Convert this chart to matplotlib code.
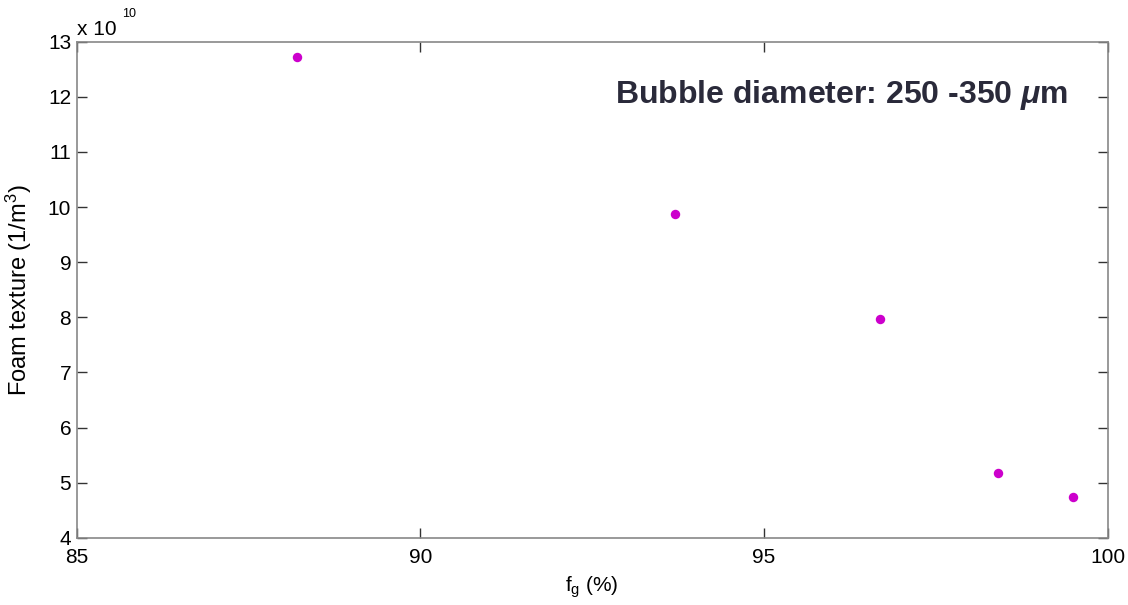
import matplotlib

matplotlib.use("Agg")
import matplotlib.pyplot as plt
from matplotlib.ticker import FuncFormatter

plt.rcParams["font.family"] = ["Liberation Sans", "DejaVu Sans"]
plt.rcParams["mathtext.fontset"] = "custom"
plt.rcParams["mathtext.rm"] = "Liberation Sans"
plt.rcParams["mathtext.it"] = "Liberation Sans:italic:bold"
plt.rcParams["mathtext.bf"] = "Liberation Sans:bold"

# gas fraction (%) and foam texture (1/m^3)
fg = [88.2, 93.7, 96.68, 98.4, 99.49]
texture = [12.72e10, 9.87e10, 7.97e10, 5.17e10, 4.74e10]

x_ticks = [85, 90, 95, 100]
y_ticks = [4, 5, 6, 7, 8, 9, 10, 11, 12, 13]

fig = plt.figure(figsize=(11.28, 6.05), dpi=100)
ax = fig.add_axes([0.068, 0.111, 0.914, 0.820])

ax.plot(fg, texture, linestyle="none", marker="o", markersize=6.8,
        color="#cc00cc", markeredgewidth=0)

ax.set_xlim(85, 100)
ax.set_ylim(4e10, 13e10)
ax.set_xticks(x_ticks)
ax.set_yticks([v * 1e10 for v in y_ticks])
ax.yaxis.set_major_formatter(FuncFormatter(lambda v, pos: f"{v / 1e10:g}"))

ax.tick_params(direction="in", length=7, width=1, top=True, right=True,
               labelsize=15, color="#333333")
ax.tick_params(axis="y", pad=4)
ax.tick_params(axis="x", pad=7)
for sp in ax.spines.values():
    sp.set_color("#888888")
    sp.set_linewidth(1.2)

ax.set_xlabel("f$_\\mathrm{g}$ (%)", fontsize=15, labelpad=6)
ax.set_ylabel("Foam texture (1/m$^\\mathrm{3}$)", fontsize=17, labelpad=10)

# MATLAB-style exponent label above the y axis
ax.text(0.0, 1.005, "x 10", transform=ax.transAxes,
        fontsize=15, ha="left", va="bottom")
ax.text(0.044, 1.069, "10", transform=ax.transAxes,
        fontsize=9, ha="left", va="top")

ax.text(0.522, 0.893, "Bubble diameter: 250 -350 $\\mu$m", transform=ax.transAxes,
        fontsize=23, fontweight="bold", color="#2a2a3a", ha="left", va="center")

fig.savefig("out.png", dpi=100)
plt.close(fig)
